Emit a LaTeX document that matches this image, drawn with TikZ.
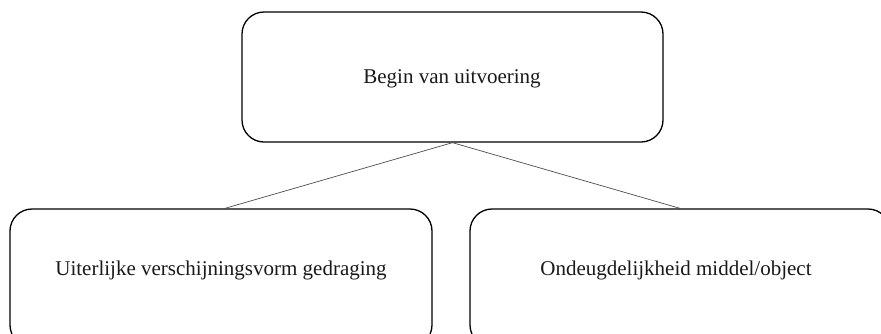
\documentclass[tikz,border=0pt]{standalone}
\usepackage{fontspec}
\setmainfont{Liberation Serif}
\begin{document}
\begin{tikzpicture}[x=1pt,y=-1pt,
  box/.style={draw=black,line width=1.3pt,rounded corners=22pt,inner sep=0pt},
  lbl/.style={font=\fontsize{21}{24}\selectfont,inner sep=0pt,text=black!90},
  conn/.style={draw=black!70,line width=0.7pt}]
\useasboundingbox (0,0) rectangle (881,333);
\clip (0,0) rectangle (881,333);
\node[box,minimum width=421pt,minimum height=130pt] (top) at (452.5,77) {};
\node[box,minimum width=422pt,minimum height=138pt] (left) at (221,278) {};
\node[box,minimum width=420pt,minimum height=138pt] (right) at (680,278) {};
\node[lbl] (tl) at (452,79) {Begin van uitvoering};
\node[lbl] (ll) at (221,270) {Uiterlijke verschijningsvorm gedraging};
\node[lbl] (rl) at (676,270) {Ondeugdelijkheid middel/object};
\draw[conn] (top.south) -- ([xshift=4pt]left.north);
\draw[conn] (top.south) -- (right.north);
\end{tikzpicture}
\end{document}
